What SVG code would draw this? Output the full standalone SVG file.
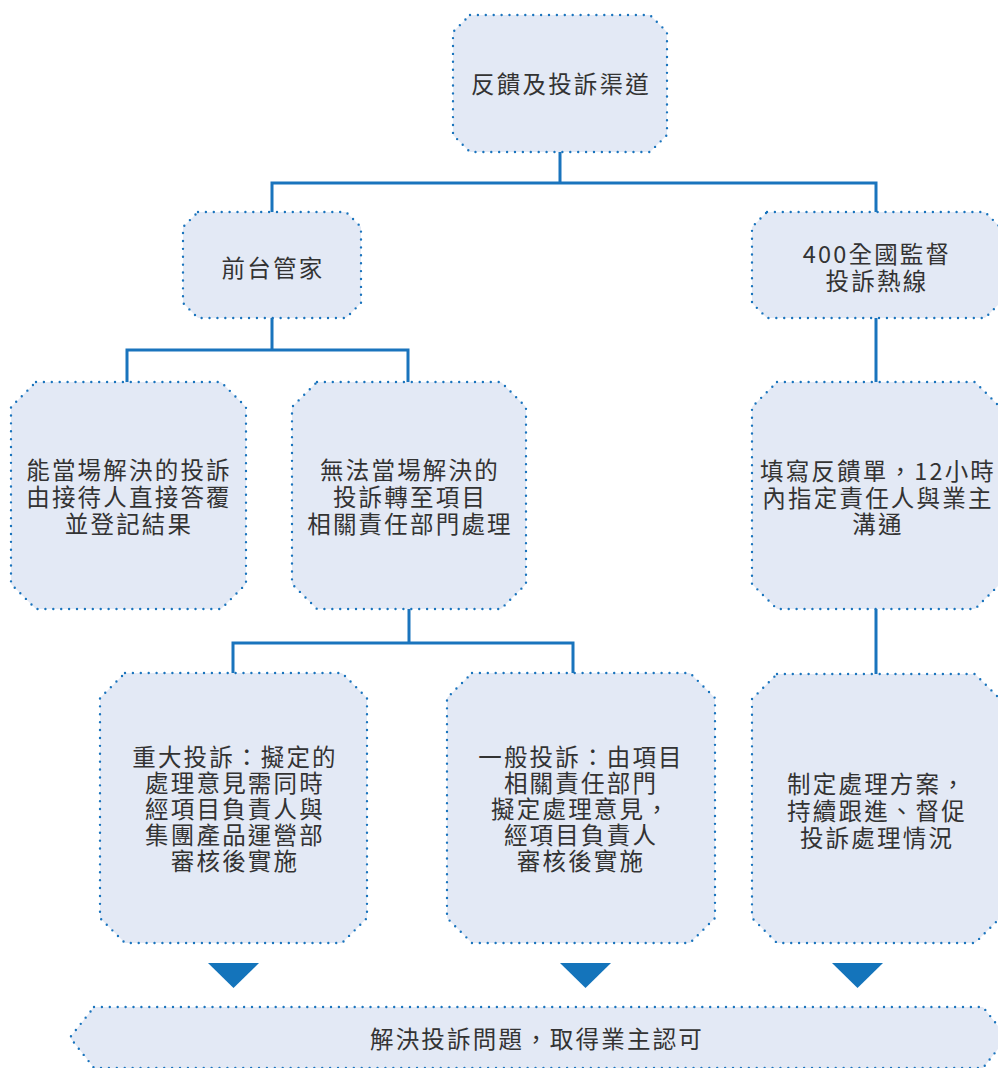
<svg xmlns="http://www.w3.org/2000/svg" width="998" height="1068" viewBox="0 0 998 1068">
<style>
.node{fill:#e3e9f5;stroke:#1a74bd;stroke-width:2.4;stroke-dasharray:0 7.9;stroke-linecap:round;stroke-linejoin:round}
.conn{fill:none;stroke:#1a74bd;stroke-width:3}
.tri{fill:#1474bb}
text{font-family:"Noto Sans CJK TC","Noto Sans CJK SC","Liberation Sans",sans-serif;font-size:23.5px;letter-spacing:2.2px;fill:#333;text-anchor:middle;dominant-baseline:central}
</style>
<rect width="998" height="1068" fill="#fff"/>
<g id="connectors">
<path class="conn" d="M560,152 V183 M272,212 V183 H876 V212"/>
<path class="conn" d="M272,318 V350 M127,382 V350 H408 V382"/>
<path class="conn" d="M876,318 V382 M876,609 V674"/>
<path class="conn" d="M409,609 V643 M233,673 V643 H573 V673"/>
<polygon class="tri" points="208,963 259,963 233.5,988"/>
<polygon class="tri" points="560,963 611,963 585.5,988"/>
<polygon class="tri" points="832,963 883,963 857.5,988"/>
</g>
<g id="n-top">
<path class="node" d="M470,15 H650 L667,32 V135 L650,152 H470 L453,135 V32 Z"/>
<text x="561" y="83">反饋及投訴渠道</text>
</g>
<g id="n-front">
<path class="node" d="M198,212 H346 L361,227 V303 L346,318 H198 L183,303 V227 Z"/>
<text x="273" y="267">前台管家</text>
</g>
<g id="n-400">
<path class="node" d="M767,212 H985 L1000,227 V303 L985,318 H767 L752,303 V227 Z"/>
<text x="877" y="253">400全國監督</text>
<text x="877" y="280">投訴熱線</text>
</g>
<g id="n-solve">
<path class="node" d="M36,382 H221 L246,407 V584 L221,609 H36 L11,584 V407 Z"/>
<text x="129" y="469">能當場解決的投訴</text>
<text x="129" y="496">由接待人直接答覆</text>
<text x="129" y="523">並登記結果</text>
</g>
<g id="n-unsolved">
<path class="node" d="M317,382 H501 L526,407 V584 L501,609 H317 L292,584 V407 Z"/>
<text x="410" y="469">無法當場解決的</text>
<text x="410" y="496">投訴轉至項目</text>
<text x="410" y="523">相關責任部門處理</text>
</g>
<g id="n-form">
<path class="node" d="M777,382 H975 L1000,407 V584 L975,609 H777 L752,584 V407 Z"/>
<text x="878" y="470">填寫反饋單，12小時</text>
<text x="878" y="497">內指定責任人與業主</text>
<text x="878" y="523">溝通</text>
</g>
<g id="n-major">
<path class="node" d="M125,673 H342 L367,698 V918 L342,943 H125 L100,918 V698 Z"/>
<text x="235" y="756">重大投訴：擬定的</text>
<text x="235" y="782">處理意見需同時</text>
<text x="235" y="808">經項目負責人與</text>
<text x="235" y="834">集團產品運營部</text>
<text x="235" y="860">審核後實施</text>
</g>
<g id="n-general">
<path class="node" d="M472,673 H690 L715,698 V918 L690,943 H472 L447,918 V698 Z"/>
<text x="581" y="756">一般投訴：由項目</text>
<text x="581" y="782">相關責任部門</text>
<text x="581" y="808">擬定處理意見，</text>
<text x="581" y="834">經項目負責人</text>
<text x="581" y="860">審核後實施</text>
</g>
<g id="n-plan">
<path class="node" d="M777,674 H975 L1000,699 V918 L975,943 H777 L752,918 V699 Z"/>
<text x="877" y="783">制定處理方案，</text>
<text x="877" y="810">持續跟進、督促</text>
<text x="877" y="837">投訴處理情況</text>
</g>
<g id="n-result">
<path class="node" d="M94,1007 H983 L1007,1037.5 L983,1068 H94 L70,1037.5 Z"/>
<text x="537" y="1038">解決投訴問題，取得業主認可</text>
</g>
</svg>
